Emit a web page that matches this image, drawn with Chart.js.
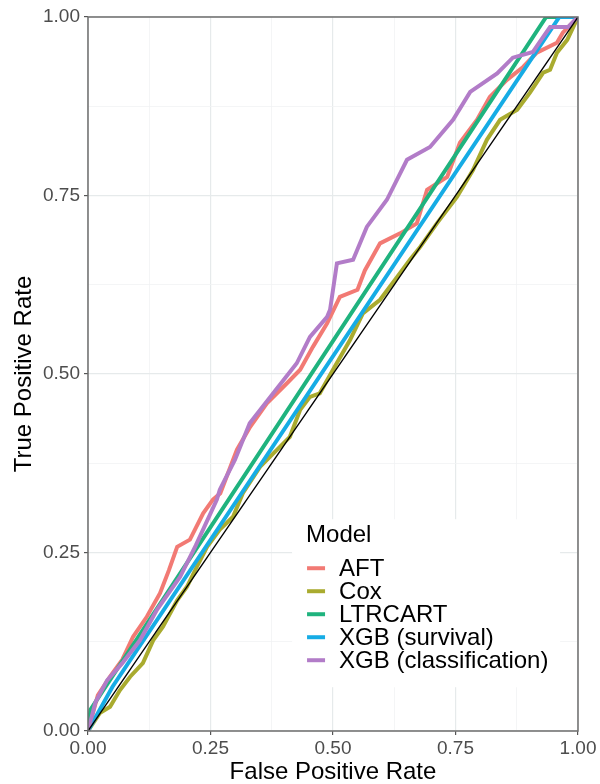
<!DOCTYPE html>
<html>
<head>
<meta charset="utf-8">
<script src="https://cdn.jsdelivr.net/npm/chart.js@4.4.1/dist/chart.umd.min.js"></script>
<style>
  html, body { margin: 0; padding: 0; background: #fff; }
</style>
</head>
<body>
<canvas id="roc" width="600" height="784"></canvas>
<script>
// values
const modelNames = ['AFT', 'Cox', 'LTRCART', 'XGB (survival)', 'XGB (classification)'];

const aftFpr = [0, 0.02, 0.045, 0.07, 0.092, 0.12, 0.147, 0.165, 0.182, 0.208, 0.235, 0.255, 0.27, 0.304, 0.331, 0.365, 0.406, 0.433, 0.459, 0.488, 0.514, 0.55, 0.565, 0.596, 0.637, 0.671, 0.692, 0.733, 0.759, 0.794, 0.82, 0.855, 0.888, 0.916, 0.957, 0.969, 1];
const aftTpr = [0, 0.05, 0.076, 0.1, 0.132, 0.16, 0.193, 0.225, 0.258, 0.268, 0.305, 0.324, 0.333, 0.394, 0.426, 0.459, 0.487, 0.506, 0.538, 0.571, 0.608, 0.618, 0.645, 0.683, 0.697, 0.711, 0.758, 0.776, 0.824, 0.856, 0.888, 0.912, 0.93, 0.95, 0.964, 0.978, 1];

const coxFpr = [0, 0.024, 0.045, 0.065, 0.086, 0.112, 0.133, 0.153, 0.182, 0.202, 0.222, 0.243, 0.269, 0.296, 0.316, 0.351, 0.386, 0.412, 0.433, 0.453, 0.473, 0.5, 0.535, 0.561, 0.596, 0.631, 0.657, 0.678, 0.712, 0.753, 0.786, 0.814, 0.841, 0.876, 0.902, 0.929, 0.943, 0.957, 0.978, 1];
const coxTpr = [0, 0.025, 0.034, 0.057, 0.076, 0.095, 0.127, 0.146, 0.183, 0.202, 0.23, 0.258, 0.282, 0.3, 0.333, 0.37, 0.394, 0.412, 0.45, 0.468, 0.473, 0.506, 0.548, 0.585, 0.604, 0.636, 0.66, 0.678, 0.711, 0.748, 0.786, 0.828, 0.856, 0.87, 0.894, 0.922, 0.926, 0.95, 0.968, 1];

const ltrFpr = [0, 0.005, 0.935, 1];
const ltrTpr = [0, 0.03, 1, 1];

const xgbsFpr = [0, 0.05, 0.962, 1];
const xgbsTpr = [0, 0.062, 1, 1];

const xgbcFpr = [0, 0.015, 0.039, 0.07, 0.106, 0.141, 0.188, 0.22, 0.263, 0.269, 0.3, 0.33, 0.378, 0.426, 0.453, 0.488, 0.494, 0.508, 0.541, 0.569, 0.61, 0.651, 0.698, 0.745, 0.78, 0.835, 0.867, 0.908, 0.929, 0.943, 0.98, 1];
const xgbcTpr = [0, 0.04, 0.071, 0.095, 0.127, 0.17, 0.216, 0.26, 0.324, 0.338, 0.38, 0.431, 0.473, 0.515, 0.552, 0.58, 0.59, 0.655, 0.66, 0.706, 0.744, 0.8, 0.818, 0.856, 0.895, 0.921, 0.943, 0.951, 0.972, 0.986, 0.986, 1];

const chanceFpr = [0, 1];
const chanceTpr = [0, 1];

const tickValues = [0, 0.25, 0.5, 0.75, 1];

const FONT = '"Liberation Sans", Arial, sans-serif';

function toPoints(xs, ys) {
  return xs.map((x, i) => ({ x: x, y: ys[i] }));
}

function isMajor(v) {
  return tickValues.some((t) => Math.abs(t - v) < 1e-6);
}

const modelLine = (label, xs, ys, color, order) => ({
  label: label,
  data: toPoints(xs, ys),
  borderColor: color,
  borderWidth: 4,
  showLine: true,
  pointRadius: 0,
  tension: 0,
  order: order
});

const panelBorder = {
  id: 'panelBorder',
  afterDatasetsDraw(chart) {
    const { ctx, chartArea: a } = chart;
    ctx.save();
    ctx.strokeStyle = '#6e6e6e';
    ctx.lineWidth = 1.5;
    ctx.strokeRect(a.left, a.top, a.right - a.left, a.bottom - a.top);
    ctx.restore();
  }
};

const insideLegend = {
  id: 'insideLegend',
  afterDatasetsDraw(chart) {
    const { ctx } = chart;
    const xs = chart.scales.x, ys = chart.scales.y;
    const left = xs.getPixelForValue(0.445);
    const top = ys.getPixelForValue(0.277);
    ctx.save();
    ctx.fillStyle = '#fff';
    ctx.fillRect(left - 14, top - 14, 268, 168);
    ctx.fillStyle = '#000';
    ctx.font = '24px ' + FONT;
    ctx.textBaseline = 'middle';
    ctx.fillText('Model', left, top + 2);
    let row = 0;
    chart.data.datasets.forEach((ds) => {
      if (!modelNames.includes(ds.label)) return;
      const y = top + 35 + row * 23;
      ctx.strokeStyle = ds.borderColor;
      ctx.lineWidth = 4;
      ctx.beginPath();
      ctx.moveTo(left + 1, y);
      ctx.lineTo(left + 19, y);
      ctx.stroke();
      ctx.fillText(ds.label, left + 33, y + 1);
      row++;
    });
    ctx.restore();
  }
};

const gridColor = (c) => isMajor(c.tick.value) ? '#e6eaeb' : '#f1f3f4';
const gridWidth = (c) => isMajor(c.tick.value) ? 1.2 : 0.8;
const tickColor = (c) => isMajor(c.tick.value) ? '#555' : 'rgba(0,0,0,0)';

new Chart(document.getElementById('roc'), {
  type: 'scatter',
  data: {
    datasets: [
      modelLine(modelNames[0], aftFpr, aftTpr, '#f27a74', 6),
      modelLine(modelNames[1], coxFpr, coxTpr, '#a9ab2f', 5),
      modelLine(modelNames[2], ltrFpr, ltrTpr, '#1fb37e', 4),
      modelLine(modelNames[3], xgbsFpr, xgbsTpr, '#16ace5', 3),
      modelLine(modelNames[4], xgbcFpr, xgbcTpr, '#b27cc8', 2),
      {
        label: 'chance',
        data: toPoints(chanceFpr, chanceTpr),
        borderColor: '#000',
        borderWidth: 1.3,
        showLine: true,
        pointRadius: 0,
        order: 1
      }
    ]
  },
  options: {
    responsive: false,
    animation: false,
    layout: { padding: { left: 0, right: 22, top: 17, bottom: 0 } },
    plugins: {
      legend: { display: false },
      tooltip: { enabled: false }
    },
    scales: {
      x: {
        type: 'linear',
        min: 0,
        max: 1,
        afterFit: (s) => { s.height = 53; },
        border: { display: false },
        grid: { color: gridColor, lineWidth: gridWidth, tickColor: tickColor, tickLength: 4, tickWidth: 1.2 },
        ticks: {
          stepSize: 0.125,
          autoSkip: false,
          maxRotation: 0,
          padding: 2,
          color: '#4d4d4d',
          font: { family: FONT, size: 19 },
          callback: (v) => isMajor(v) ? v.toFixed(2) : ''
        },
        title: {
          display: true,
          text: 'False Positive Rate',
          color: '#000',
          font: { family: FONT, size: 24, lineHeight: 1 },
          padding: { top: 0, bottom: 0 }
        }
      },
      y: {
        type: 'linear',
        min: 0,
        max: 1,
        afterFit: (s) => { s.width = 88; },
        border: { display: false },
        grid: { color: gridColor, lineWidth: gridWidth, tickColor: tickColor, tickLength: 4, tickWidth: 1.2 },
        ticks: {
          stepSize: 0.125,
          autoSkip: false,
          padding: 4,
          color: '#4d4d4d',
          font: { family: FONT, size: 19 },
          callback: (v) => isMajor(v) ? v.toFixed(2) : ''
        },
        title: {
          display: true,
          text: 'True Positive Rate',
          color: '#000',
          font: { family: FONT, size: 24, lineHeight: 1 },
          padding: { top: 12, bottom: 0 }
        }
      }
    }
  },
  plugins: [panelBorder, insideLegend]
});
</script>
</body>
</html>
